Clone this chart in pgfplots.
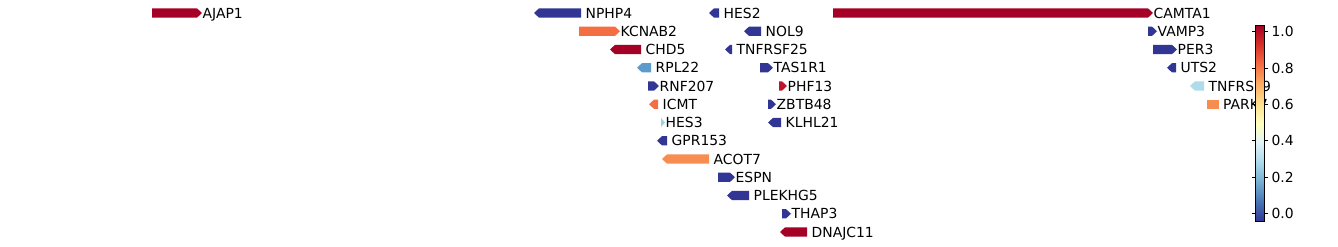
\documentclass[border=0pt]{standalone}
\usepackage{fontspec}
\setmainfont{DejaVu Sans}
\usepackage{pgfplots}
\pgfplotsset{compat=1.18}
\usetikzlibrary{calc}

\definecolor{dblue}{RGB}{49,54,149}
\definecolor{dred}{RGB}{165,0,38}
\definecolor{pred}{RGB}{190,20,40}
\definecolor{oredA}{RGB}{244,109,67}
\definecolor{orangeB}{RGB}{248,141,82}
\definecolor{midblue}{RGB}{95,155,202}
\definecolor{paleblue}{RGB}{176,220,234}
\definecolor{hesblue}{RGB}{160,210,230}

\newcommand{\genefont}{\fontsize{13.9bp}{16bp}\selectfont}

% \gene{name}{start}{end}{row}{strand: 1, -1 or 0}{colour}
\newcommand{\gene}[6]{%
  \pgfmathsetmacro{\glen}{#3-#2}%
  \pgfmathsetmacro{\ghead}{min(5,\glen)}%
  \pgfmathsetmacro{\ylo}{#4-0.255}%
  \pgfmathsetmacro{\yhi}{#4+0.255}%
  \pgfmathsetmacro{\ylab}{#4+0.275}%
  \ifnum#5>0
    \pgfmathsetmacro{\xk}{#3-\ghead}%
    \pgfmathsetmacro{\xl}{#3+0.5}%
    \edef\tmp{\noexpand\addplot[fill=#6, draw=none] coordinates {(#2,\ylo) (\xk,\ylo) (#3,#4) (\xk,\yhi) (#2,\yhi)} -- cycle;}%
  \else\ifnum#5<0
    \pgfmathsetmacro{\xk}{#2+\ghead}%
    \pgfmathsetmacro{\xl}{#3+4.5}%
    \edef\tmp{\noexpand\addplot[fill=#6, draw=none] coordinates {(#3,\ylo) (\xk,\ylo) (#2,#4) (\xk,\yhi) (#3,\yhi)} -- cycle;}%
  \else
    \pgfmathsetmacro{\xl}{#3+4}%
    \edef\tmp{\noexpand\addplot[fill=#6, draw=none] coordinates {(#2,\ylo) (#3,\ylo) (#3,\yhi) (#2,\yhi)} -- cycle;}%
  \fi\fi
  \tmp
  \edef\tmp{\noexpand\node[anchor=base west, inner sep=0pt, font=\noexpand\genefont] at (axis cs:\xl,\ylab) {#1};}%
  \tmp
}

\begin{document}
\begin{tikzpicture}
\begin{axis}[
  scale only axis,
  width=1338bp, height=246bp,
  xmin=0, xmax=1338,
  ymin=-0.712, ymax=12.767,
  y dir=reverse,
  hide axis,
  clip=false,
  colormap={RdYlBuR}{rgb255=(49,54,149) rgb255=(69,117,180) rgb255=(116,173,209) rgb255=(171,217,233) rgb255=(224,243,248) rgb255=(255,255,191) rgb255=(254,224,144) rgb255=(253,174,97) rgb255=(244,109,67) rgb255=(215,48,39) rgb255=(165,0,38)},
  colormap name=RdYlBuR,
  point meta min=-0.045, point meta max=1.037,
  colorbar,
  colorbar style={
    hide x axis=false, hide y axis=false,
    at={($(parent axis.south west)+(1247bp,24.3bp)$)},
    anchor=south west,
    scale only axis,
    width=9bp, height=196.7bp,
    ytick={0,0.2,0.4,0.6,0.8,1},
    yticklabel pos=right,
    yticklabel style={/pgf/number format/.cd, fixed, fixed zerofill, precision=1, /tikz/.cd, font=\genefont},
    /pgf/number format/assume math mode=true,
    tick align=outside,
    major tick length=3.5bp,
    tick style={black, line width=0.8bp},
    axis line style={black, line width=0.8bp},
  },
]
\addplot[fill=white, draw=none] coordinates {(0,-0.712) (1338,-0.712) (1338,12.767) (0,12.767)} -- cycle;

\gene{AJAP1}{152}{202}{0}{1}{dred}
\gene{NPHP4}{534}{581}{0}{-1}{dblue}
\gene{HES2}{709}{719}{0}{-1}{dblue}
\gene{CAMTA1}{833}{1153}{0}{1}{dred}

\gene{KCNAB2}{579}{620}{1}{1}{oredA}
\gene{NOL9}{744}{761}{1}{-1}{dblue}
\gene{VAMP3}{1148}{1157}{1}{1}{dblue}

\gene{CHD5}{610}{641}{2}{-1}{dred}
\gene{TNFRSF25}{725}{732}{2}{-1}{dblue}
\gene{PER3}{1153}{1177}{2}{1}{dblue}

\gene{RPL22}{637}{651}{3}{-1}{midblue}
\gene{TAS1R1}{760}{773}{3}{1}{dblue}
\gene{UTS2}{1167}{1176}{3}{-1}{dblue}

\gene{RNF207}{648}{659}{4}{1}{dblue}
\gene{PHF13}{779}{787}{4}{1}{pred}
\gene{TNFRSF9}{1190}{1204}{4}{-1}{paleblue}

\gene{ICMT}{649}{658}{5}{-1}{oredA}
\gene{ZBTB48}{768}{776}{5}{1}{dblue}
\gene{PARK7}{1207}{1219}{5}{0}{orangeB}

\gene{HES3}{661}{665}{6}{1}{hesblue}
\gene{KLHL21}{768}{781}{6}{-1}{dblue}

\gene{GPR153}{657}{667}{7}{-1}{dblue}

\gene{ACOT7}{662}{709}{8}{-1}{orangeB}

\gene{ESPN}{718}{735}{9}{1}{dblue}

\gene{PLEKHG5}{727}{749}{10}{-1}{dblue}

\gene{THAP3}{782}{791}{11}{1}{dblue}

\gene{DNAJC11}{780}{807}{12}{-1}{dred}
\end{axis}
\end{tikzpicture}
\end{document}
